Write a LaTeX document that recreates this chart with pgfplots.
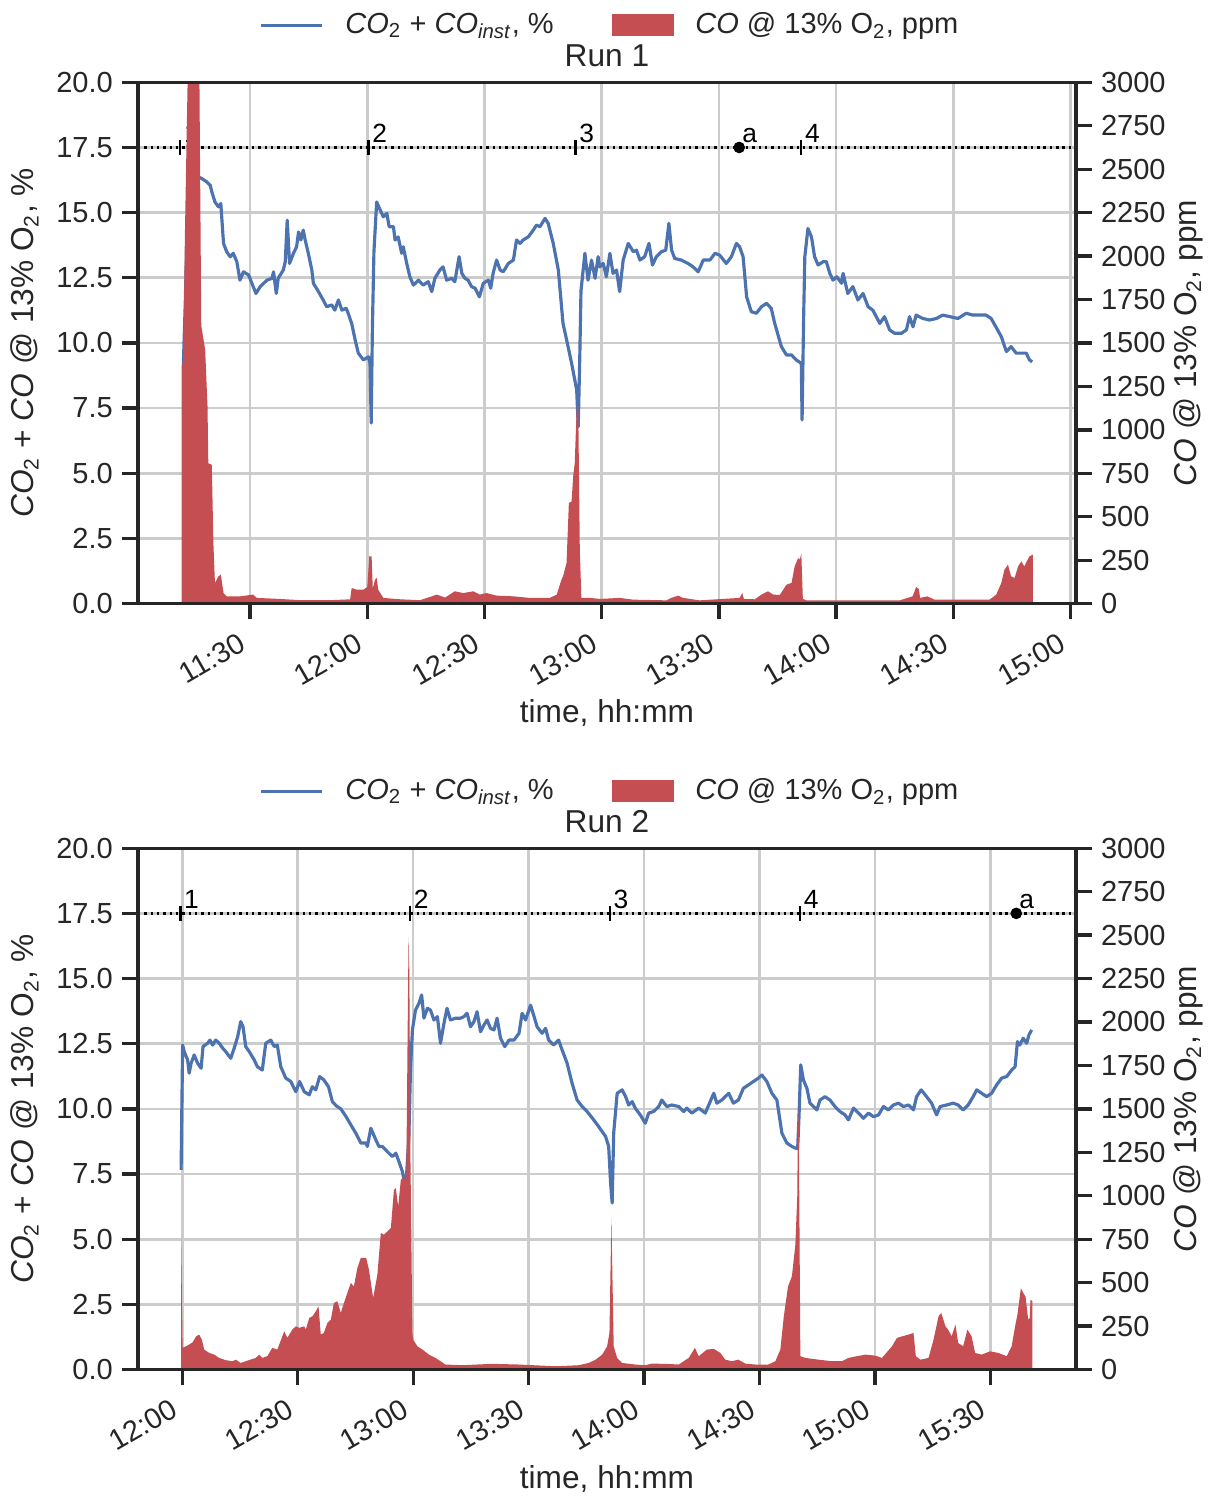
\documentclass[border=0pt]{standalone}
\usepackage{fontspec}
\setmainfont{Liberation Sans}
\usepackage{pgfplots}
\pgfplotsset{compat=1.18}

\definecolor{sbblue}{HTML}{4C72B0}
\definecolor{sbred}{HTML}{C44E52}
\definecolor{ink}{HTML}{262626}
\definecolor{gridc}{HTML}{CCCCCC}

\newcommand{\sub}[1]{\textsubscript{#1}}
\newcommand{\leftlab}{\textit{CO}\sub{2} + \textit{CO} @ 13\% O\sub{2}, \%}
\newcommand{\rightlab}{\textit{CO} @ 13\% O\sub{2}, ppm}
\newcommand{\bluelab}{\textit{CO}\sub{2} + \textit{CO}\sub{\textit{inst}}, \%}

\pgfplotsset{
  base/.style={
    scale only axis, width=355.5pt, height=197.6pt, anchor=south west,
    tick align=outside, major tick length=6pt,
    major tick style={ink, line width=1.25pt},
    axis line style={ink, line width=1.25pt},
    tick label style={font=\fontsize{11}{13}\selectfont, text=ink},
    label style={font=\fontsize{12}{14}\selectfont, text=ink},
  },
  leftax/.style={
    base, ymin=0, ymax=20,
    ytick={0,2.5,...,20},
    yticklabels={0.0,2.5,5.0,7.5,10.0,12.5,15.0,17.5,20.0},
    xtick pos=bottom, ytick pos=left,
    grid=major, major grid style={gridc, line width=1pt},
    xlabel={time, hh:mm}, ylabel={\leftlab},
    xlabel style={at={(axis description cs:0.5,0)}, anchor=base, yshift=-44.9pt},
    ylabel style={at={(axis description cs:-0.1109,0.5)}, anchor=base},
    xticklabel style={xshift=-3.5pt, rotate=30, anchor=north east},
    title style={at={(axis description cs:0.5,1)}, anchor=base, yshift=0pt,
      font=\fontsize{12}{14}\selectfont, text=ink},
  },
  rightax/.style={
    base, ymin=0, ymax=3000, axis on top,
    xtick=\empty, ytick={0,250,...,3000},
    yticklabels={0,250,500,750,1000,1250,1500,1750,2000,2250,2500,2750,3000},
    ytick pos=right, yticklabel pos=right,
    ylabel={\rightlab},
    ylabel style={at={(axis description cs:1.1283,0.5)}, anchor=base},
    legend columns=2,
    legend style={at={(axis description cs:0.505,1.1093)}, anchor=center,
      draw=none, fill=none, text=ink, font=\fontsize{11}{13}\selectfont,
      /tikz/every even column/.append style={column sep=20pt},
      /tikz/every odd column/.append style={column sep=6.2pt}},
  },
  runline/.style={sbblue, line width=1.2pt, line join=round},
  runarea/.style={fill=sbred, draw=none, area legend,
    legend image code/.code={\fill[##1] (0pt,-4.2pt) rectangle (23.5pt,4.2pt);}},
  bluekey/.style={sbblue, line width=1.3pt,
    legend image code/.code={\draw[##1] (0pt,0pt) -- (23pt,0pt);}},
  refline/.style={black, line width=0.9pt, dash pattern=on 0.9pt off 1.5pt},
  stagemarks/.style={only marks, mark=|, mark size=2.9pt,
    mark options={black, line width=0.9pt},
    nodes near coords, point meta=explicit symbolic,
    nodes near coords style={anchor=base west, inner sep=0pt, xshift=1pt, yshift=1.9pt,
      font=\fontsize{10}{12}\selectfont, text=black}},
  eventmark/.style={only marks, mark=*, mark size=2pt,
    mark options={black, fill=black},
    nodes near coords, point meta=explicit symbolic,
    nodes near coords style={anchor=base west, inner sep=0pt, xshift=1pt, yshift=1.9pt,
      font=\fontsize{10}{12}\selectfont, text=black}},
}

\begin{document}
\begin{tikzpicture}
\useasboundingbox (0,0) rectangle (461.6pt,567.4pt);

% ---------------- Run 1 ----------------
\begin{axis}[leftax, at={(52.3pt,338.6pt)}, xmin=661.3, xmax=901.4,
  xtick={690,720,750,780,810,840,870,900},
  xticklabels={11:30,12:00,12:30,13:00,13:30,14:00,14:30,15:00},
  title={Run 1}]
\addplot[refline] coordinates {(661.3,17.5) (901.4,17.5)};
\addplot[runline] coordinates {
(672.9,9.1) (673.4,11.5) (673.9,14.5) (674.7,15.8) (675.7,16.4) (676.8,16.37) (677.6,16.31)
(678.9,16.18) (679.8,16.05) (680.2,15.80) (681.0,15.41) (681.9,15.22) (682.5,15.35) (683.2,13.82)
(684.0,13.50) (684.9,13.31) (685.7,13.44) (686.6,13.12) (687.4,12.41) (688.3,12.73) (689.6,12.61)
(690.8,12.16) (691.5,11.90) (692.6,12.16) (694.3,12.41) (695.6,12.48) (696.0,12.73) (696.7,11.90)
(697.2,12.48) (698.5,12.80) (699.0,13.12) (699.5,14.71) (700.1,13.05) (701.1,13.44) (701.9,13.69)
(702.4,14.26) (703.0,13.95) (703.6,14.33) (704.1,13.95) (704.9,13.44) (705.8,12.80) (706.2,12.29)
(707.5,11.97) (708.7,11.65) (709.6,11.39) (710.9,11.46) (711.7,11.26) (712.6,11.65) (713.5,11.26)
(714.6,11.33) (715.1,11.14) (716.0,10.75) (716.9,10.11) (717.7,9.61) (719.0,9.35) (720.3,9.47)
(720.7,9.22) (721.0,6.93) (721.3,10.5) (721.7,13.5) (722.4,15.41) (723.3,15.10) (724.1,14.84)
(725.0,14.97) (725.6,14.46) (726.7,14.46) (727.1,13.95) (727.9,14.07) (728.8,13.44) (729.2,13.69)
(730.1,13.05) (730.9,12.54) (731.8,12.22) (733.1,12.41) (734.3,12.22) (735.6,12.35) (736.5,11.97)
(737.3,12.48) (738.6,12.80) (739.4,12.92) (740.3,12.41) (741.6,12.48) (742.4,12.35) (743.5,13.31)
(744.2,12.67) (745.0,12.48) (745.8,12.41) (746.7,12.16) (747.6,12.10) (748.7,11.77) (749.7,12.29)
(751.0,12.41) (751.6,12.10) (752.2,12.67) (753.1,13.18) (754.0,12.80) (754.8,12.73) (756.1,13.05)
(757.4,13.18) (758.2,13.95) (759.1,13.82) (759.9,13.95) (761.2,14.07) (762.5,14.33) (763.3,14.52)
(764.2,14.46) (765.5,14.78) (766.3,14.59) (767.6,13.82) (768.9,12.80) (770.1,10.75) (771.4,9.86)
(772.3,9.22) (773.6,8.20) (774.0,6.79) (774.4,9.5) (774.7,12.0) (775.7,13.44) (776.5,12.41)
(777.4,13.18) (778.3,12.48) (779.1,13.31) (779.5,12.92) (780.4,13.05) (781.2,12.54) (782.1,13.44)
(782.9,12.67) (783.8,12.80) (784.6,11.97) (785.5,13.18) (786.8,13.82) (788.1,13.50) (788.9,13.56)
(789.8,13.18) (791.0,13.31) (792.1,13.82) (793.0,12.99) (794.0,13.31) (795.3,13.50) (796.4,13.56)
(797.2,14.59) (797.9,13.56) (798.7,13.24) (800.4,13.18) (802.1,13.05) (803.4,12.92) (804.7,12.73)
(806.0,13.18) (807.7,13.18) (809.0,13.44) (810.2,13.37) (811.9,13.05) (813.2,13.31) (814.5,13.82)
(815.3,13.69) (816.2,13.31) (817.1,11.77) (818.3,11.20) (819.6,11.14) (820.9,11.39) (822.2,11.52)
(823.4,11.33) (824.3,10.75) (826.0,9.86) (827.3,9.54) (828.6,9.54) (829.8,9.35) (831.1,9.22)
(831.3,7.05) (831.7,11.0) (832.0,13.31) (832.8,14.39) (833.7,14.07) (834.5,13.31) (835.4,12.99)
(836.7,13.12) (837.5,13.12) (838.4,12.67) (839.2,12.41) (840.2,12.54) (841.4,12.29) (841.8,12.67)
(843.0,11.90) (844.3,12.16) (845.6,11.65) (846.9,11.90) (848.2,11.39) (849.4,11.26) (851.2,10.75)
(852.4,11.01) (853.7,10.50) (855.0,10.37) (856.7,10.37) (858.0,10.50) (858.8,11.01) (859.7,10.62)
(860.5,11.07) (862.2,10.94) (863.9,10.88) (865.7,10.94) (867.3,11.07) (869.1,11.01) (871.2,10.94)
(873.3,11.14) (875.0,11.07) (876.7,11.07) (878.4,11.07) (879.7,10.94) (880.9,10.62) (882.3,10.24)
(883.6,9.67) (884.8,9.86) (886.1,9.61) (887.4,9.61) (888.7,9.61) (889.5,9.35) (890.2,9.28)
};
\addplot[stagemarks] coordinates {(672.1,17.5) [1] (720.3,17.5) [2] (773.3,17.5) [3] (831.1,17.5) [4]};
\addplot[eventmark] coordinates {(815.2,17.5) [a]};
\end{axis}

\begin{axis}[rightax, at={(52.3pt,338.6pt)}, xmin=661.3, xmax=901.4]
\addlegendimage{bluekey}
\addlegendentry{\bluelab}
\addplot[runarea] coordinates {
(672.5,1364) (672.9,1400) (673.3,2110) (674.0,3000) (675.5,3600) (676.9,3400) (677.0,3100)
(677.2,2500) (677.5,1600) (678.5,1460) (679.1,1134) (679.3,808) (680.2,799) (680.6,349)
(681.0,119) (681.9,157) (682.5,167) (683.2,61) (684.0,42) (687.4,42) (690.8,52) (691.7,33)
(697.7,27) (702.8,20) (710.5,20) (715.6,25) (716.0,90) (717.3,80) (719.0,80) (720.0,96)
(720.5,272) (721.1,272) (721.4,90) (722.0,138) (722.4,148) (722.8,80) (724.1,33) (728.4,25)
(733.5,20) (736.5,42) (737.8,52) (739.9,35) (742.4,71) (744.6,61) (747.1,71) (748.8,52)
(750.5,61) (753.1,46) (757.4,42) (761.6,33) (766.7,33) (768.5,52) (769.7,138) (770.1,157)
(771.0,234) (771.6,579) (772.3,588) (772.7,732) (773.1,808) (773.6,1125) (774.0,1125)
(774.4,310) (774.8,33) (777.0,33) (779.5,27) (784.6,33) (788.0,23) (796.6,19) (797.8,33)
(799.6,46) (800.8,33) (805.1,19) (815.3,33) (816.0,61) (816.4,27) (819.2,25) (820.9,52)
(822.6,71) (823.9,52) (825.6,50) (827.3,109) (828.6,119) (829.4,214) (830.3,263) (830.7,253)
(831.1,287) (831.5,27) (832.4,19) (856.3,19) (859.6,42) (860.5,96) (861.2,84) (861.5,33)
(863.4,42) (865.2,23) (879.3,23) (881.0,52) (882.3,119) (883.1,195) (884.0,224) (884.8,157)
(885.7,148) (886.6,214) (887.4,243) (888.2,214) (888.6,234) (889.5,272) (890.4,282)
} \closedcycle;
\addlegendentry{\rightlab}
\end{axis}

% ---------------- Run 2 ----------------
\begin{axis}[leftax, at={(52.3pt,48.3pt)}, xmin=708.5, xmax=952.2,
  xtick={720,750,780,810,840,870,900,930},
  xticklabels={12:00,12:30,13:00,13:30,14:00,14:30,15:00,15:30},
  title={Run 2}]
\addplot[refline] coordinates {(708.5,17.5) (952.2,17.5)};
\addplot[runline] coordinates {
(719.7,7.66) (720.1,12.45) (720.5,12.20) (721.4,11.88) (721.8,11.37) (722.3,11.75) (723.1,12.07)
(724.0,11.75) (724.9,11.56) (725.4,12.39) (726.6,12.52) (727.2,12.64) (727.9,12.45) (728.7,12.64)
(729.6,12.52) (730.5,12.33) (731.3,12.20) (732.6,11.94) (733.5,12.33) (734.4,12.77) (735.2,13.35)
(735.8,13.15) (736.5,12.39) (737.4,12.20) (738.7,11.88) (739.5,11.62) (740.8,11.49) (741.7,12.52)
(743.0,12.64) (743.9,12.39) (744.7,12.45) (745.6,11.62) (746.9,11.18) (748.2,11.05) (749.5,10.66)
(750.5,11.05) (751.7,10.66) (753.0,10.54) (753.8,10.85) (754.7,10.73) (755.7,11.24) (756.8,11.11)
(758.0,10.85) (759.0,10.28) (760.0,10.12) (761.2,10.0) (762.5,9.72) (763.8,9.39) (765.1,9.07)
(766.4,8.69) (767.7,8.69) (768.1,8.56) (769.0,9.26) (770.3,8.81) (771.1,8.56) (772.0,8.56)
(773.3,8.36) (774.6,8.17) (775.5,8.30) (776.3,7.98) (777.2,7.60) (777.6,7.28) (778.1,7.0)
(778.9,9.0) (779.3,11.5) (779.8,13.03) (780.6,13.79) (781.5,14.05) (782.2,14.37) (782.8,13.48)
(783.7,13.86) (784.5,13.79) (785.4,13.41) (786.3,13.54) (787.1,12.52) (788.0,13.28) (788.8,13.86)
(789.7,13.41) (791.0,13.48) (792.3,13.48) (793.2,13.54) (794.0,13.67) (794.9,13.15) (795.8,13.35)
(796.6,13.73) (797.5,12.96) (798.4,13.22) (799.2,13.41) (800.1,13.09) (801.0,13.03) (801.8,13.48)
(802.7,12.71) (803.8,12.39) (804.9,12.64) (806.2,12.64) (807.5,12.90) (808.3,13.67) (809.2,13.41)
(810.5,13.98) (811.3,13.60) (812.2,13.15) (813.5,12.90) (814.4,13.09) (815.2,12.64) (816.5,12.45)
(817.8,12.64) (818.7,12.26) (820.0,11.75) (821.3,10.98) (822.6,10.34) (823.9,10.09) (825.2,9.90)
(826.9,9.58) (828.2,9.32) (830.0,8.94) (830.8,8.56) (831.3,7.15) (831.7,6.39) (832.1,9.07)
(833.0,10.60) (834.3,10.73) (835.2,10.47) (836.0,10.15) (836.9,10.28) (837.7,10.03) (839.0,9.77)
(840.3,9.45) (841.2,9.84) (842.5,9.90) (843.8,10.09) (844.6,10.34) (845.9,10.09) (847.2,10.15)
(849.0,10.09) (850.3,9.90) (851.1,10.03) (852.4,9.84) (854.2,10.03) (855.9,9.84) (856.8,10.15)
(858.1,10.60) (858.9,10.22) (860.2,10.34) (862.0,10.60) (863.2,10.22) (864.5,10.34) (865.8,10.79)
(867.1,10.92) (868.4,11.05) (869.7,11.18) (870.6,11.30) (871.9,11.05) (873.2,10.60) (874.5,10.34)
(874.9,9.96) (875.8,9.07) (877.1,8.69) (878.4,8.56) (879.4,8.49) (879.9,8.49) (880.2,9.5)
(880.7,11.69) (881.4,11.11) (882.3,10.79) (883.1,10.22) (884.0,10.09) (884.9,9.96) (885.7,10.34)
(887.0,10.47) (888.3,10.34) (889.6,10.09) (890.9,9.90) (892.2,9.77) (893.1,9.58) (894.4,10.03)
(895.7,9.84) (897.0,9.64) (898.3,9.84) (899.6,9.70) (900.9,9.77) (902.2,10.09) (903.5,9.96)
(904.8,10.15) (906.1,10.22) (907.4,10.09) (908.7,10.15) (910.0,9.96) (910.8,10.47) (912.0,10.73)
(913.4,10.47) (914.7,10.22) (916.0,9.77) (916.9,10.09) (918.6,10.15) (920.3,10.22) (921.6,10.15)
(922.9,9.96) (924.2,10.15) (925.5,10.47) (926.4,10.73) (927.7,10.60) (929.0,10.47) (930.3,10.60)
(931.6,10.92) (932.9,11.18) (934.2,11.24) (935.5,11.49) (936.4,11.62) (937.0,12.58) (937.6,12.45)
(938.5,12.71) (939.4,12.52) (940.0,12.84) (940.7,13.03)
};
\addplot[stagemarks] coordinates {(719.5,17.5) [1] (779.2,17.5) [2] (831.1,17.5) [3] (880.5,17.5) [4]};
\addplot[eventmark] coordinates {(936.7,17.5) [a]};
\end{axis}

\begin{axis}[rightax, at={(52.3pt,48.3pt)}, xmin=708.5, xmax=952.2]
\addlegendimage{bluekey}
\addlegendentry{\bluelab}
\addplot[runarea] coordinates {
(719.7,766) (720.1,125) (721.0,134) (721.8,144) (722.7,157) (723.6,191) (724.4,201) (725.1,172)
(725.7,115) (727.0,96) (728.3,86) (729.6,67) (731.3,54) (733.1,48) (733.9,57) (735.2,38)
(736.5,48) (739.1,67) (740.0,86) (740.8,67) (742.1,77) (743.4,125) (744.7,115) (746.5,220)
(747.3,182) (748.6,230) (749.5,249) (750.4,240) (751.7,249) (752.1,230) (753.0,297) (753.8,306)
(754.7,335) (755.4,364) (756.0,201) (756.8,211) (757.7,268) (758.6,287) (759.4,383) (760.3,393)
(761.2,326) (762.0,383) (762.9,441) (763.8,498) (764.6,479) (765.5,584) (766.4,642) (767.8,642)
(768.5,575) (769.6,412) (770.7,546) (771.6,786) (772.4,776) (773.3,795) (774.2,814) (775.0,1034)
(775.5,1044) (776.1,938) (776.8,1092) (777.6,1111) (778.2,1082) (778.5,1800) (778.8,2490)
(779.0,2300) (779.3,1200) (779.8,211) (780.0,172) (781.1,134) (782.4,115) (784.1,86) (785.8,67)
(788.4,29) (792.7,25) (800.5,33) (807.5,29) (817.0,19) (823.0,25) (825.6,38) (827.4,57)
(829.1,86) (830.4,134) (831.0,211) (831.5,872) (832.1,134) (833.0,67) (834.3,38) (837.7,29)
(840.3,25) (842.0,34) (845.5,33) (849.0,29) (851.6,67) (853.2,125) (854.2,77) (856.3,115)
(858.1,119) (859.8,96) (861.1,57) (862.8,48) (864.5,57) (866.3,34) (868.9,29) (872.3,29)
(874.1,48) (875.4,115) (876.3,306) (877.4,479) (878.4,536) (879.3,718) (879.8,1000) (880.0,1513)
(880.2,1400) (880.6,77) (881.9,67) (885.3,57) (888.8,48) (891.4,48) (893.1,67) (895.3,77)
(897.5,86) (900.1,80) (901.8,67) (904.4,134) (905.7,182) (907.0,191) (908.7,201) (910.0,211)
(910.6,77) (911.8,57) (913.9,67) (915.2,172) (916.5,306) (917.2,326) (918.3,249) (919.0,230)
(919.9,191) (920.9,259) (921.6,153) (922.9,134) (924.0,230) (925.1,191) (926.0,96) (927.7,86)
(929.9,105) (932.0,96) (934.2,77) (935.5,134) (936.4,249) (937.0,316) (937.9,469) (938.5,441)
(939.1,421) (939.8,287) (940.2,297) (940.4,402) (940.9,393)
} \closedcycle;
\addlegendentry{\rightlab}
\end{axis}
\end{tikzpicture}
\end{document}
